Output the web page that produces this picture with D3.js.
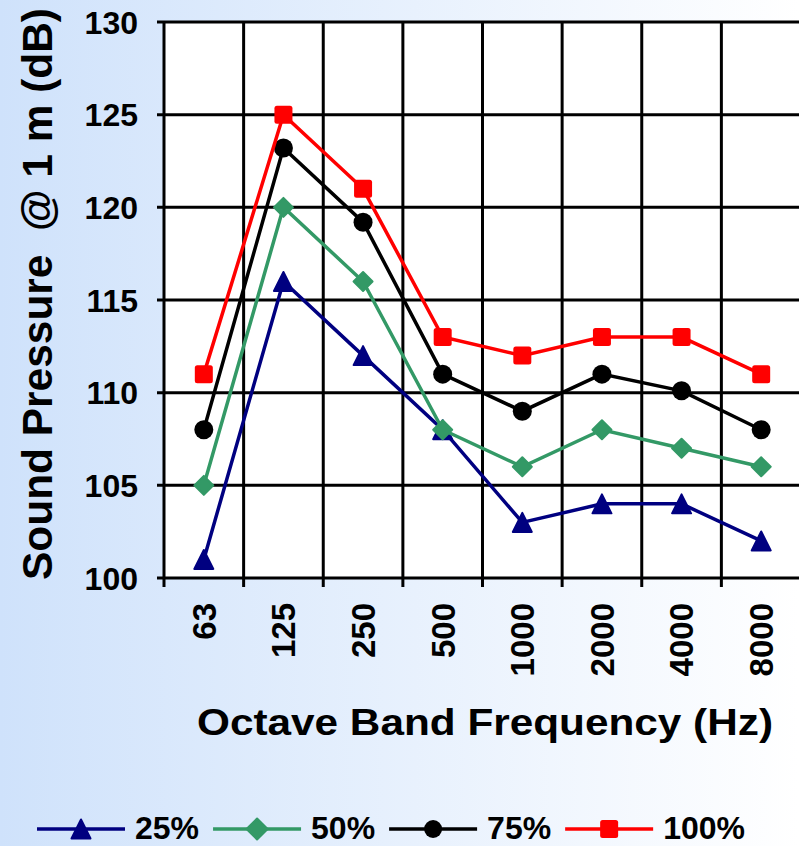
<!DOCTYPE html>
<html>
<meta charset="utf-8">
<head>
<script src="https://d3js.org/d3.v7.min.js"></script>
<style>
    body { margin: 0; }
    svg { display: block; font-family: "Liberation Sans", Arial, sans-serif; font-weight: bold; }
</style>
</head>
<body>
<script>
// data
var bands = ["63", "125", "250", "500", "1000", "2000", "4000", "8000"];
var load25 = [101, 116, 112, 108, 103, 104, 104, 102];
var load50 = [105, 120, 116, 108, 106, 108, 107, 106];
var load75 = [108, 123.2, 119.2, 111, 109, 111, 110.1, 108];
var load100 = [111, 125, 121, 113, 112, 113, 113, 111];
var yTicks = [100, 105, 110, 115, 120, 125, 130];

var series = [
    {name: "25%", values: load25, color: "#000080", marker: "triangle"},
    {name: "50%", values: load50, color: "#339966", marker: "diamond"},
    {name: "75%", values: load75, color: "#000000", marker: "circle"},
    {name: "100%", values: load100, color: "#FF0000", marker: "square"}
];

var W = 799, H = 846;
var plot = {left: 164, right: 801, top: 22, bottom: 578};

var svg = d3.select("body").append("svg")
    .attr("width", W)
    .attr("height", H);

// background gradient
var grad = svg.append("defs").append("linearGradient")
    .attr("id", "bg").attr("x1", 0).attr("y1", 0).attr("x2", 1).attr("y2", 0);
grad.append("stop").attr("offset", "0%").attr("stop-color", "#cfe2fb");
grad.append("stop").attr("offset", "100%").attr("stop-color", "#ffffff");
svg.append("rect").attr("width", W).attr("height", H).attr("fill", "url(#bg)");

var x = d3.scaleBand().domain(bands).range([plot.left, plot.right]);
var y = d3.scaleLinear().domain([100, 130]).range([plot.bottom, plot.top]);

// plot area
svg.append("rect")
    .attr("x", plot.left).attr("y", plot.top)
    .attr("width", plot.right - plot.left).attr("height", plot.bottom - plot.top)
    .attr("fill", "#ffffff");

// grid lines
var bounds = bands.map(function(b) { return x(b); }).concat([plot.right]);
svg.append("g").selectAll("line").data(bounds).enter().append("line")
    .attr("x1", function(d) { return d; }).attr("x2", function(d) { return d; })
    .attr("y1", plot.top).attr("y2", plot.bottom + 9)
    .attr("stroke", "#000").attr("stroke-width", 3);
svg.append("g").selectAll("line").data(yTicks).enter().append("line")
    .attr("x1", plot.left - 7).attr("x2", plot.right)
    .attr("y1", function(d) { return y(d); }).attr("y2", function(d) { return y(d); })
    .attr("stroke", "#000").attr("stroke-width", 3);

// y axis labels
svg.append("g").selectAll("text").data(yTicks).enter().append("text")
    .attr("x", 138).attr("y", function(d) { return y(d); })
    .attr("dy", "0.36em")
    .attr("text-anchor", "end")
    .style("font-size", "32px")
    .text(function(d) { return d; });

// x axis labels, rotated
svg.append("g").selectAll("text").data(bands).enter().append("text")
    .attr("transform", function(d) {
        return "translate(" + (x(d) + x.bandwidth() / 2) + ",603) rotate(-90)";
    })
    .attr("dy", "0.36em")
    .attr("text-anchor", "end")
    .style("font-size", "33px")
    .text(function(d) { return d; });

// axis titles
svg.append("text")
    .attr("x", 485).attr("y", 735)
    .attr("text-anchor", "middle")
    .attr("textLength", 576).attr("lengthAdjust", "spacingAndGlyphs")
    .style("font-size", "37px")
    .text("Octave Band Frequency (Hz)");

svg.append("text")
    .attr("transform", "translate(52,294) rotate(-90)")
    .attr("text-anchor", "middle")
    .attr("textLength", 572).attr("lengthAdjust", "spacingAndGlyphs")
    .style("font-size", "42px")
    .style("white-space", "pre")
    .text("Sound Pressure  @ 1 m (dB)");

// marker shapes
function drawMarker(g, type, size, color) {
    var s = size / 2;
    if (type === "circle") {
        g.append("circle").attr("r", s).attr("fill", color);
    } else if (type === "square") {
        g.append("rect").attr("x", -s).attr("y", -s).attr("width", size).attr("height", size)
            .attr("rx", 2.5).attr("fill", color);
    } else if (type === "diamond") {
        g.append("path").attr("d", "M0," + (-s) + "L" + s + ",0L0," + s + "L" + (-s) + ",0Z")
            .attr("fill", color).attr("stroke", color).attr("stroke-width", 2).attr("stroke-linejoin", "round");
    } else {
        g.append("path").attr("d", "M0," + (-s) + "L" + s + "," + s + "L" + (-s) + "," + s + "Z")
            .attr("fill", color).attr("stroke", color).attr("stroke-width", 2).attr("stroke-linejoin", "round");
    }
}

var line = d3.line()
    .x(function(d, i) { return x(bands[i]) + x.bandwidth() / 2; })
    .y(function(d) { return y(d); });

series.forEach(function(s) {
    svg.append("path")
        .attr("d", line(s.values))
        .attr("fill", "none")
        .attr("stroke", s.color)
        .attr("stroke-width", 3.5);
    s.values.forEach(function(v, i) {
        var g = svg.append("g")
            .attr("transform", "translate(" + (x(bands[i]) + x.bandwidth() / 2) + "," + y(v) + ")");
        drawMarker(g, s.marker, s.marker === "square" ? 18 : 19, s.color);
    });
});

// legend
var lx = 37, ly = 829;
series.forEach(function(s) {
    var g = svg.append("g").attr("transform", "translate(" + lx + "," + ly + ")");
    g.append("line").attr("x1", 0).attr("x2", 88).attr("stroke", s.color).attr("stroke-width", 3.5);
    var m = g.append("g").attr("transform", "translate(44,0)");
    drawMarker(m, s.marker, s.marker === "diamond" ? 21 : (s.marker === "triangle" ? 19 : 18), s.color);
    var t = g.append("text").attr("x", 98).attr("y", 10)
        .style("font-size", "32px")
        .text(s.name);
    lx += 98 + t.node().getComputedTextLength() + 14;
});
</script>
</body>
</html>
